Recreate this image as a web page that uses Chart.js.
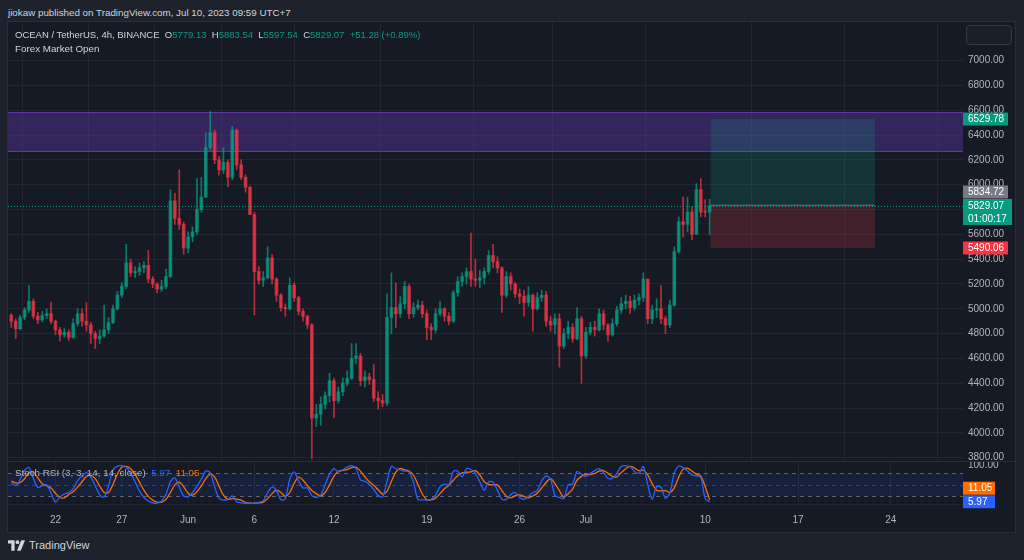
<!DOCTYPE html>
<html><head><meta charset="utf-8">
<script src="https://cdn.jsdelivr.net/npm/chart.js@4.4.0/dist/chart.umd.min.js"></script>
<style>
html,body{margin:0;padding:0;background:#1e222d;width:1024px;height:560px;overflow:hidden;font-family:"Liberation Sans",Arial,sans-serif;}
.abs{position:absolute;white-space:nowrap;}
#hdr{left:8px;top:7px;font-size:9.8px;color:#d1d4dc;}
#frame{left:7px;top:21px;width:1007px;height:510px;border:1px solid #2a2e39;background:#161a25;}
#cA{position:absolute;left:8px;top:22px;}
#cB{position:absolute;left:8px;top:461px;}
.sep{position:absolute;left:8px;width:1007px;height:1px;background:#2a2e39;}
#btn{left:966px;top:25px;width:44px;height:18px;border:1px solid #363a45;border-radius:4px;background:#1b1f2a;}
#leg1{left:15px;top:29px;font-size:9.5px;color:#d1d4dc;}
#leg2{left:15px;top:43px;font-size:9.8px;color:#d1d4dc;}
.g{color:#089981;}
#rsiLbl{left:15px;top:467px;font-size:9.8px;color:#b2b5be;}
#foot{left:8px;top:539px;font-size:11px;color:#d1d4dc;display:flex;align-items:center;gap:4px;}
</style></head>
<body>
<div id="frame" class="abs"></div>
<div id="hdr" class="abs">jiokaw published on TradingView.com, Jul 10, 2023 09:59 UTC+7</div>
<canvas id="cA" width="1007" height="439"></canvas>
<div class="sep" style="top:504px;width:955px;background:#222632"></div>
<canvas id="cB" width="1007" height="70"></canvas>
<div class="sep" style="top:461px"></div>
<div id="btn" class="abs"></div>
<div id="leg1" class="abs">OCEAN / TetherUS, 4h, BINANCE&nbsp; O<span class="g">5779.13</span>&nbsp; H<span class="g">5883.54</span>&nbsp; L<span class="g">5597.54</span>&nbsp; C<span class="g">5829.07</span>&nbsp; <span class="g">+51.28 (+0.89%)</span></div>
<div id="leg2" class="abs">Forex Market Open</div>
<div id="rsiLbl" class="abs">Stoch RSI (3, 3, 14, 14, close)&nbsp; <span style="color:#2962ff">5.97</span>&nbsp; <span style="color:#ff6d00">11.05</span></div>
<div id="foot" class="abs"><svg width="17" height="11" viewBox="0 0 36 22"><path d="M0 0h14v22H7V7H0z" fill="#d1d4dc"/><circle cx="20" cy="4" r="4" fill="#d1d4dc"/><path d="M28 0h8l-9 22h-8z" fill="#d1d4dc"/></svg><span>TradingView</span></div>
<script>
// ---- DATA (8h candles from May 18 16:00 to Jul 10 08:00) ----
const firstOpen = 4950;
const close = [
4900,4840,4930,4990,5060,4940,4910,4945,4960,4900,
4830,4790,4810,4770,4880,4960,4900,4870,4800,4760,
4780,4830,4890,5000,5110,5180,5370,5290,5300,5330,
5350,5240,5200,5160,5180,5260,5870,5730,5680,5490,
5580,5620,5800,5900,6300,6420,6200,6120,6180,6060,
6440,6160,6060,5980,5760,5300,5230,5250,5410,5240,
5110,5010,5000,5190,5090,4980,4940,4870,4120,4150,
4230,4300,4420,4260,4330,4400,4440,4600,4620,4420,
4450,4430,4280,4260,4240,4930,5010,4960,5040,5180,
4960,5010,5030,4960,4850,4830,4960,5000,4940,4900,
5130,5220,5260,5300,5240,5230,5250,5300,5430,5380,
5330,5110,5260,5200,5120,5100,5050,5110,5000,5090,
5110,4900,4870,4920,4700,4800,4850,4760,4920,4620,
4810,4850,4830,4960,4870,4790,4880,4990,5040,5060,
5010,5070,5090,5240,4920,4990,5000,4920,4870,5030,
5460,5700,5680,5780,5600,5960,5780,5779.13,5829.07];
const high = [
4960,4920,4950,5010,5190,5080,4970,4980,5000,5055,
4910,4850,4840,4830,4920,5000,5000,5050,4890,4820,
4830,5030,4930,5030,5140,5210,5520,5400,5340,5370,
5380,5470,5260,5210,5230,5320,5960,5930,6120,5700,
5620,5660,6050,6060,6420,6590,6440,6230,6300,6200,
6470,6450,6200,6080,5990,5780,5340,5300,5500,5440,
5250,5120,5040,5250,5210,5100,5000,4950,4880,4230,
4290,4330,4480,4440,4370,4440,4500,4720,4720,4640,
4500,4480,4550,4330,4310,5120,5290,5210,5100,5220,
5200,5050,5070,5060,4990,4880,5000,5060,5010,4970,
5150,5260,5290,5330,5610,5400,5310,5330,5470,5520,
5420,5340,5300,5290,5210,5160,5150,5180,5120,5130,
5150,5140,4940,4960,4960,4840,4900,4880,5010,4940,
4850,4890,4900,5000,4990,4880,4920,5020,5090,5110,
5100,5110,5120,5290,5240,5030,5080,5190,4940,5070,
5500,5740,5900,5900,5820,6010,6050,5880,5883.54];
const low = [
4850,4760,4830,4910,4970,4920,4880,4895,4920,4880,
4790,4740,4770,4745,4760,4860,4860,4820,4720,4680,
4720,4770,4800,4880,4990,5090,5160,5260,5250,5270,
5290,5210,5170,5130,5140,5160,5250,5680,5640,5440,
5450,5540,5600,5780,5900,6280,6170,6080,6090,5985,
6040,6120,6040,5940,5760,4950,5200,5180,5240,5200,
5060,4980,4940,4990,5060,4950,4900,4840,3790,4050,
4060,4190,4250,4120,4240,4300,4380,4430,4560,4380,
4370,4390,4250,4190,4210,4220,4800,4850,4930,5000,
4920,4930,4990,4930,4750,4750,4810,4940,4900,4870,
4890,5100,5180,5200,5180,5180,5170,5200,5280,5330,
5290,4970,5090,5150,5090,5040,4940,5020,4820,4990,
5060,4860,4820,4800,4530,4680,4760,4730,4750,4400,
4600,4790,4780,4820,4830,4740,4780,4860,4960,5000,
4960,4990,5030,5060,4880,4880,4930,4880,4800,4850,
5020,5450,5580,5620,5555,5600,5740,5740,5597.54];
const stochK = [
55,48,64,88,95,67,43,48,50,28,
5,18,26,30,40,61,73,82,70,47,
24,18,47,88,99,100,96,80,58,34,
17,8,3,2,8,25,58,68,45,21,
19,30,46,65,86,82,45,15,10,12,
21,6,3,2,2,2,4,8,30,44,
35,11,14,65,84,60,42,42,22,17,
23,50,78,92,84,89,96,100,92,63,
59,51,38,22,19,59,98,92,89,86,
84,56,12,11,10,12,24,45,52,50,
85,86,71,92,90,80,58,36,58,57,
36,12,12,25,30,17,12,20,30,35,
60,73,65,22,17,14,50,52,85,78,
72,80,87,92,82,67,67,80,98,100,
97,85,80,98,50,12,45,44,15,30,
80,99,95,86,76,73,70,14,5.97];
const stochD = [
60,55,56,66,82,83,68,53,47,42,
28,17,16,25,32,44,58,72,75,66,
47,30,30,51,78,96,98,92,78,57,
36,20,10,5,5,12,30,50,57,45,
28,23,32,47,66,78,71,47,23,12,
14,13,10,4,2,2,3,5,14,27,
36,30,20,30,54,70,62,48,35,27,
21,30,50,73,85,88,90,95,96,85,
71,58,49,37,26,33,59,83,93,89,
86,75,51,26,11,11,15,27,40,49,
62,74,81,83,84,87,76,58,51,50,
50,35,20,16,22,24,20,16,21,28,
42,56,66,53,35,18,27,39,62,72,
78,77,80,86,87,80,72,71,82,92,
98,94,87,88,76,53,36,34,35,30,
42,70,91,93,86,78,73,45,11.05];
// time axis: days after May 22 00:00
const tickDays = [0,5,10,15,21,28,35,40,49,56,63];
const tickLabels = ['22','27','Jun','6','12','19','26','Jul','10','17','24'];
const priceTicks = [3800,4000,4200,4400,4600,4800,5000,5200,5400,5600,5800,6000,6200,6400,6600,6800,7000];
const zoneLow = 6264, zoneHigh = 6586;
const posEntry = 5834.72, posTarget = 6529.78, posStop = 5490.06;
const posFrom = 49.4, posTo = 61.8;
const lastClose = 5829.07, countdown = '01:00:17';
const stochLastK = 5.97, stochLastD = 11.05;

// ---- derived ----
const open = close.map((c,i)=> i===0 ? firstOpen : close[i-1]);
const day = close.map((c,i)=> -10/3 + i/3);
const UP='rgba(8,153,129,0.75)', DN='rgba(242,54,69,0.72)';
const cols = close.map((c,i)=> c>=open[i]?UP:DN);
const X_MIN=-3.582, X_MAX=68.44;
const FONT='"Liberation Sans", Arial, sans-serif';
const GRID='rgba(42,46,57,0.6)';

function box(ctx,x,top,w,h,bg,lines){
  ctx.fillStyle=bg; ctx.fillRect(x,top,w,h);
  ctx.fillStyle='#ffffff'; ctx.font='10px '+FONT; ctx.textBaseline='middle'; ctx.textAlign='left';
  const lh=h/lines.length;
  lines.forEach((t,k)=>ctx.fillText(t,x+5,top+lh*k+lh/2+0.5));
}

const annA={id:'annA',
 beforeDatasetsDraw(ch){
  const {ctx,chartArea:a,scales:{y}}=ch;
  const t=y.getPixelForValue(zoneHigh), b=y.getPixelForValue(zoneLow);
  ctx.save();
  ctx.fillStyle='rgba(103,58,183,0.38)'; ctx.fillRect(a.left,t,a.right-a.left,b-t);
  ctx.fillStyle='rgba(103,58,183,0.9)'; ctx.fillRect(a.left,t,a.right-a.left,1); ctx.fillRect(a.left,b-1,a.right-a.left,1);
  ctx.restore();
 },
 afterDatasetsDraw(ch){
  const {ctx,chartArea:a,scales:{x,y}}=ch;
  const x0=x.getPixelForValue(posFrom), x1=x.getPixelForValue(posTo);
  const yt=y.getPixelForValue(posTarget), ye=y.getPixelForValue(posEntry), ys=y.getPixelForValue(posStop);
  ctx.save();
  ctx.fillStyle='rgba(8,153,129,0.2)'; ctx.fillRect(x0,yt,x1-x0,ye-yt);
  ctx.fillStyle='rgba(242,54,69,0.2)'; ctx.fillRect(x0,ye,x1-x0,ys-ye);
  ctx.fillStyle='rgba(120,123,134,0.9)'; ctx.fillRect(x0,ye-0.5,x1-x0,1);
  const yl=Math.round(y.getPixelForValue(lastClose))+0.5;
  ctx.strokeStyle='#089981'; ctx.lineWidth=1; ctx.setLineDash([1,2]);
  ctx.beginPath(); ctx.moveTo(a.left,yl); ctx.lineTo(a.right,yl); ctx.stroke();
  ctx.restore();
 },
 afterDraw(ch){
  const {ctx,chartArea:a,scales:{y}}=ch;
  ctx.save();
  const xr=a.right;
  box(ctx,xr,y.getPixelForValue(posTarget)-6.5,45,13,'#089981',[posTarget.toFixed(2)]);
  const curTop=y.getPixelForValue(lastClose)-7;
  box(ctx,xr,curTop,49,26,'#089981',[lastClose.toFixed(2),countdown]);
  box(ctx,xr,curTop-13.5,45,13,'#787b86',[posEntry.toFixed(2)]);
  box(ctx,xr,y.getPixelForValue(posStop)-6.5,45,13,'#f23645',[posStop.toFixed(2)]);
  ctx.restore();
 }
};

new Chart(document.getElementById('cA'),{
 type:'bar',
 data:{datasets:[
  {label:'body',data:day.map((d,i)=>({x:d,y:[open[i],close[i]]})),backgroundColor:cols,barThickness:3,minBarLength:1,grouped:false,order:0},
  {label:'wick',data:day.map((d,i)=>({x:d,y:[low[i],high[i]]})),backgroundColor:cols,barThickness:1,grouped:false,order:1}
 ]},
 options:{responsive:false,animation:false,devicePixelRatio:1,
  layout:{padding:0},
  plugins:{legend:{display:false},tooltip:{enabled:false}},
  scales:{
   x:{type:'linear',min:X_MIN,max:X_MAX,offset:false,
     afterBuildTicks:s=>{s.ticks=tickDays.map(v=>({value:v}));},
     ticks:{display:false},grid:{color:GRID,drawTicks:false},border:{display:false},
     afterFit:s=>{s.height=0;s.paddingLeft=0;s.paddingRight=0;}},
   y:{type:'linear',position:'right',min:3773,max:7312,
     afterBuildTicks:s=>{s.ticks=priceTicks.map(v=>({value:v}));},
     ticks:{color:'#b2b5be',font:{size:10,family:FONT},padding:5,autoSkip:false,callback:v=>Number(v).toFixed(2)},
     grid:{color:GRID,drawTicks:false},border:{display:false},
     afterFit:s=>{s.width=52;s.paddingTop=0;s.paddingBottom=0;}}
  }
 },
 plugins:[annA]
});

const annB={id:'annB',
 beforeDatasetsDraw(ch){
  const {ctx,chartArea:a,scales:{y}}=ch;
  const y80=y.getPixelForValue(80), y20=y.getPixelForValue(20), y50=y.getPixelForValue(50);
  ctx.save();
  ctx.fillStyle='rgba(41,98,255,0.1)'; ctx.fillRect(a.left,y80,a.right-a.left,y20-y80);
  ctx.lineWidth=1; ctx.setLineDash([4,4]);
  [[y80,'rgba(120,123,134,0.75)'],[y50,'rgba(120,123,134,0.4)'],[y20,'rgba(120,123,134,0.75)']].forEach(([yy,c])=>{
    ctx.strokeStyle=c; ctx.beginPath(); ctx.moveTo(a.left,Math.round(yy)+0.5); ctx.lineTo(a.right,Math.round(yy)+0.5); ctx.stroke();
  });
  ctx.restore();
 },
 afterDraw(ch){
  const {ctx,chartArea:a,scales:{y}}=ch;
  ctx.save();
  const kTop=y.getPixelForValue(stochLastK)-6.5;
  box(ctx,a.right,kTop,32,13,'#2962ff',[stochLastK.toFixed(2)]);
  box(ctx,a.right,kTop-13.5,32,13,'#ff6d00',[stochLastD.toFixed(2)]);
  ctx.restore();
 }
};

new Chart(document.getElementById('cB'),{
 type:'line',
 data:{datasets:[
  {label:'%K',data:day.map((d,i)=>({x:d,y:stochK[i]})),borderColor:'#2962ff',borderWidth:1.3,pointRadius:0,tension:0.3},
  {label:'%D',data:day.map((d,i)=>({x:d,y:stochD[i]})),borderColor:'#ff6d00',borderWidth:1.3,pointRadius:0,tension:0.3}
 ]},
 options:{responsive:false,animation:false,devicePixelRatio:1,
  layout:{padding:0},
  plugins:{legend:{display:false},tooltip:{enabled:false}},
  scales:{
   x:{type:'linear',min:X_MIN,max:X_MAX,offset:false,
     afterBuildTicks:s=>{s.ticks=tickDays.map(v=>({value:v}));},
     ticks:{color:'#b2b5be',font:{size:10,family:FONT},padding:10,autoSkip:false,maxRotation:0,
       callback:v=>{const k=tickDays.indexOf(v);return k>=0?tickLabels[k]:'';}},
     grid:{color:GRID,drawTicks:false},border:{display:false},
     afterFit:s=>{s.height=27;s.paddingLeft=0;s.paddingRight=0;}},
   y:{type:'linear',position:'right',min:0,max:112.2,
     afterBuildTicks:s=>{s.ticks=[{value:100}];},
     ticks:{color:'#b2b5be',font:{size:10,family:FONT},padding:5,callback:v=>Number(v).toFixed(2)},
     grid:{display:false,drawTicks:false},border:{display:false},
     afterFit:s=>{s.width=52;s.paddingTop=0;s.paddingBottom=0;}}
  }
 },
 plugins:[annB]
});
</script>
</body></html>
